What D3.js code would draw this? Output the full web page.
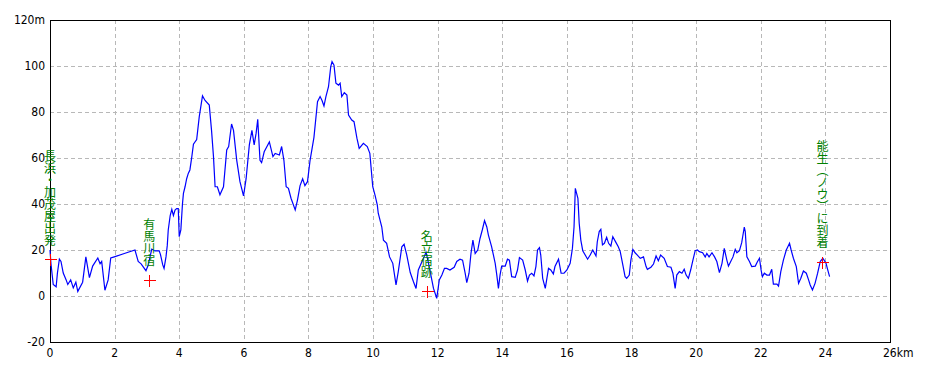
<!DOCTYPE html>
<html>
<head>
<meta charset="utf-8">
<script src="https://cdn.jsdelivr.net/npm/d3@7"></script>
<style>
  body { margin: 0; background: #fff; }
  svg { display: block; }
  .tick-label { font-family: "Liberation Sans Narrow", "DejaVu Sans Condensed", sans-serif; font-size: 12px; fill: #000; }
  .place { font-family: "Noto Sans CJK JP", sans-serif; font-size: 12px; fill: #008000; }
</style>
</head>
<body>
<svg id="chart" width="930" height="372"></svg>
<script>
// distance along route (km) and elevation (m)
const distKm = [
  0.00, 0.03, 0.10, 0.19, 0.23, 0.29, 0.34, 0.41, 0.50, 0.55, 0.64, 0.72, 0.80, 0.86, 1.01, 1.11,
  1.22, 1.32, 1.48, 1.55, 1.60, 1.70, 1.80, 1.88, 1.99, 2.30, 2.63, 2.73, 2.82, 2.97, 3.04, 3.15,
  3.25, 3.38, 3.42, 3.49, 3.53, 3.59, 3.63, 3.66, 3.72, 3.77, 3.82, 3.87, 3.92, 3.97, 4.00, 4.05,
  4.10, 4.13, 4.18, 4.23, 4.28, 4.33, 4.39, 4.44, 4.54, 4.62, 4.72, 4.80, 4.93, 5.00, 5.06, 5.11,
  5.18, 5.26, 5.37, 5.47, 5.53, 5.62, 5.68, 5.78, 5.88, 5.99, 6.07, 6.17, 6.25, 6.32, 6.38, 6.43,
  6.50, 6.55, 6.63, 6.79, 6.90, 6.97, 7.10, 7.17, 7.24, 7.31, 7.38, 7.46, 7.59, 7.66, 7.74, 7.82,
  7.89, 7.97, 8.05, 8.17, 8.28, 8.36, 8.42, 8.48, 8.54, 8.62, 8.69, 8.73, 8.79, 8.85, 8.93, 8.98,
  9.03, 9.11, 9.19, 9.24, 9.34, 9.41, 9.50, 9.57, 9.70, 9.82, 9.90, 9.99, 10.06, 10.13, 10.16, 10.27,
  10.32, 10.42, 10.51, 10.61, 10.71, 10.78, 10.89, 10.96, 11.04, 11.15, 11.25, 11.33, 11.40, 11.56, 11.64, 11.72,
  11.87, 11.97, 12.05, 12.13, 12.21, 12.28, 12.38, 12.51, 12.59, 12.69, 12.77, 12.85, 12.90, 12.97, 13.03, 13.09,
  13.16, 13.24, 13.31, 13.38, 13.45, 13.52, 13.57, 13.67, 13.78, 13.83, 13.88, 13.93, 13.98, 14.09, 14.16, 14.22,
  14.29, 14.40, 14.47, 14.53, 14.63, 14.71, 14.78, 14.84, 14.91, 14.98, 15.04, 15.09, 15.15, 15.19, 15.25, 15.33,
  15.38, 15.43, 15.50, 15.58, 15.63, 15.74, 15.82, 15.91, 16.00, 16.10, 16.17, 16.22, 16.26, 16.30, 16.34, 16.38,
  16.43, 16.49, 16.64, 16.72, 16.80, 16.90, 16.94, 17.00, 17.05, 17.10, 17.16, 17.23, 17.29, 17.36, 17.42, 17.52,
  17.59, 17.65, 17.73, 17.80, 17.85, 17.93, 17.98, 18.04, 18.11, 18.18, 18.27, 18.37, 18.45, 18.49, 18.60, 18.68,
  18.76, 18.83, 18.90, 19.01, 19.11, 19.22, 19.28, 19.35, 19.40, 19.48, 19.56, 19.63, 19.69, 19.76, 19.83, 19.90,
  19.97, 20.04, 20.10, 20.20, 20.28, 20.33, 20.40, 20.49, 20.57, 20.64, 20.72, 20.80, 20.87, 20.95, 21.00, 21.07,
  21.14, 21.21, 21.26, 21.34, 21.41, 21.49, 21.52, 21.57, 21.65, 21.72, 21.83, 21.90, 21.96, 22.01, 22.05, 22.11,
  22.19, 22.27, 22.34, 22.39, 22.50, 22.55, 22.62, 22.70, 22.79, 22.89, 22.94, 23.01, 23.10, 23.17, 23.24, 23.32,
  23.41, 23.48, 23.53, 23.60, 23.68, 23.76, 23.84, 23.92, 23.96, 24.02, 24.06, 24.13
];
const elevM = [
  20, 14, 5, 4, 10, 16, 15, 10, 7, 5, 7, 3.5, 6, 2, 6, 17,
  8, 13, 16.5, 14, 15, 2.5, 7, 16.5, 17, 18.5, 20, 15, 14, 11, 13.5, 20.4,
  19.6, 19.6, 18, 13.5, 12, 17, 22, 28.7, 35, 37.7, 35, 37.4, 38, 38, 25.8, 28.7,
  40, 44.6, 47.5, 51, 53.3, 54.8, 60.6, 66, 68, 78, 87, 85, 83, 72, 60.6, 47.5,
  47.5, 44, 47.5, 63.5, 65, 74.8, 72, 59, 49.7, 43.5, 51, 65.7, 72, 65.7, 70.8, 76.8,
  59, 58, 62.7, 67, 60.6, 62, 61.3, 65, 59, 47.5, 46.8, 42.5, 37.4, 41.7, 48, 51,
  48, 49.7, 59, 69, 84.5, 86.7, 85, 82.6, 86.7, 91, 99.7, 101.9, 100.4, 92.5, 91.7, 92.5,
  86.7, 88.4, 87.4, 78.7, 76.5, 75.8, 68.6, 64.2, 66.4, 65, 62, 47.5, 43.9, 39.6, 36, 30,
  24.3, 22.9, 17, 14.2, 4.8, 10.6, 21.4, 22.5, 18, 10.2, 6.2, 3.3, 11.3, 16.4, 19, 14,
  3.3, -1, 7, 9.1, 12, 12, 11.3, 12.5, 15, 16, 15.6, 9.9, 5.8, 9.9, 18.5, 24.3,
  18.5, 20, 25, 28.7, 32.8, 30, 26.5, 21.4, 14.2, 9.1, 3.3, 9.1, 13, 13, 16, 15.6,
  8.4, 8.1, 11.3, 16.7, 15.6, 11.3, 6.5, 9.1, 9.9, 8.7, 12.8, 20, 21, 17.8, 7.7, 3.3,
  7.7, 12, 11.3, 9.6, 12.8, 16, 9.9, 9.9, 11.3, 14.2, 20.7, 30, 46.8, 44.6, 42.5, 31.6,
  24.3, 19.7, 16, 17.8, 20, 17.4, 23.6, 28, 29, 22.2, 22.9, 25.5, 22.9, 21.7, 25.8, 23.2,
  21.4, 19.3, 13.5, 8.4, 7.7, 9.1, 15.6, 20.3, 18.8, 17.8, 16.4, 17, 12.8, 11.6, 12.5, 13.9,
  17.4, 15.3, 17.8, 16.4, 12.8, 12.5, 9.9, 3.3, 9.1, 10.6, 9.9, 11.6, 9.1, 7.7, 11.3, 15.6,
  19.7, 20, 19.3, 18.8, 17, 18.5, 17, 18.8, 17, 15, 10.2, 14.2, 20.7, 15.6, 13, 15,
  17, 20.3, 18.8, 19.7, 23.2, 30, 28, 17, 15, 12.8, 13, 15, 16.4, 11.3, 8.4, 9.9,
  9.1, 9.1, 11.6, 5.2, 5.2, 4.3, 10.6, 15.6, 20, 22.9, 20, 16.4, 12.8, 5.5, 7.7, 10.9,
  9.9, 7, 4.8, 2.6, 5.5, 9.9, 15, 16.4, 15.6, 14.2, 12, 8.4
];

// waypoints
const placeNames = ['長浜・加茂屋出発', '有馬川宿', '名立宿跡', '能生（ノウ）に到着'];
const placeKm = [0, 3.07, 11.66, 23.91];
const placeElev = [16, 7, 2, 15];

// axis ticks
const xTicks = [0, 2, 4, 6, 8, 10, 12, 14, 16, 18, 20, 22, 24, 26];
const yTicks = [-20, 0, 20, 40, 60, 80, 100, 120];

const plotLeft = 50, plotRight = 890, plotTop = 20, plotBottom = 342;

const x = d3.scaleLinear().domain([0, 26]).range([plotLeft, plotRight]);
const y = d3.scaleLinear().domain([-20, 120]).range([plotBottom, plotTop]);

const svg = d3.select('#chart');

// grid
const grid = svg.append('g')
  .attr('stroke', '#b8b8b8')
  .attr('stroke-dasharray', '4,3')
  .attr('shape-rendering', 'crispEdges');
grid.selectAll('line.gx')
  .data(xTicks.filter((d) => d > 0 && d < 26))
  .join('line')
  .attr('class', 'gx')
  .attr('x1', (d) => Math.round(x(d)) + 0.5)
  .attr('x2', (d) => Math.round(x(d)) + 0.5)
  .attr('y1', plotTop)
  .attr('y2', plotBottom);
grid.selectAll('line.gy')
  .data(yTicks.filter((d) => d > -20 && d < 120))
  .join('line')
  .attr('class', 'gy')
  .attr('x1', plotLeft)
  .attr('x2', plotRight)
  .attr('y1', (d) => Math.round(y(d)) + 0.5)
  .attr('y2', (d) => Math.round(y(d)) + 0.5);

// frame
svg.append('rect')
  .attr('x', plotLeft + 0.5)
  .attr('y', plotTop + 0.5)
  .attr('width', plotRight - plotLeft)
  .attr('height', plotBottom - plotTop)
  .attr('fill', 'none')
  .attr('stroke', '#000')
  .attr('shape-rendering', 'crispEdges');

// y labels
svg.append('g')
  .selectAll('text')
  .data(yTicks)
  .join('text')
  .attr('class', 'tick-label')
  .attr('x', 45)
  .attr('y', (d) => y(d) + 4)
  .attr('text-anchor', 'end')
  .text((d) => (d === 120 ? d + 'm' : d));

// x labels
svg.append('g')
  .selectAll('text')
  .data(xTicks)
  .join('text')
  .attr('class', 'tick-label')
  .attr('x', (d) => (d === 26 ? x(d) - 7 : x(d)))
  .attr('y', 357)
  .attr('text-anchor', (d) => (d === 26 ? 'start' : 'middle'))
  .text((d) => (d === 26 ? d + 'km' : d));

// profile line
const profile = distKm.map((d, i) => [d, elevM[i]]);
svg.append('path')
  .datum(profile)
  .attr('fill', 'none')
  .attr('stroke', '#0000ff')
  .attr('stroke-width', 1.2)
  .attr('d', d3.line().x((d) => x(d[0])).y((d) => y(d[1])));

// waypoint crosses
const marks = svg.append('g')
  .attr('stroke', '#ff0000')
  .attr('shape-rendering', 'crispEdges')
  .selectAll('g')
  .data(placeKm)
  .join('g')
  .attr('transform', (d, i) => `translate(${Math.round(x(d)) + 0.5},${Math.round(y(placeElev[i])) + 0.5})`);
marks.append('line').attr('x1', -6).attr('x2', 6);
marks.append('line').attr('y1', -6).attr('y2', 6);

// vertical place names
svg.append('g')
  .selectAll('text')
  .data(placeNames)
  .join('text')
  .attr('class', 'place')
  .attr('writing-mode', 'vertical-rl')
  .attr('text-anchor', 'end')
  .attr('x', (d, i) => x(placeKm[i]))
  .attr('y', (d, i) => y(placeElev[i]) - 13)
  .text((d) => d);
</script>
</body>
</html>
